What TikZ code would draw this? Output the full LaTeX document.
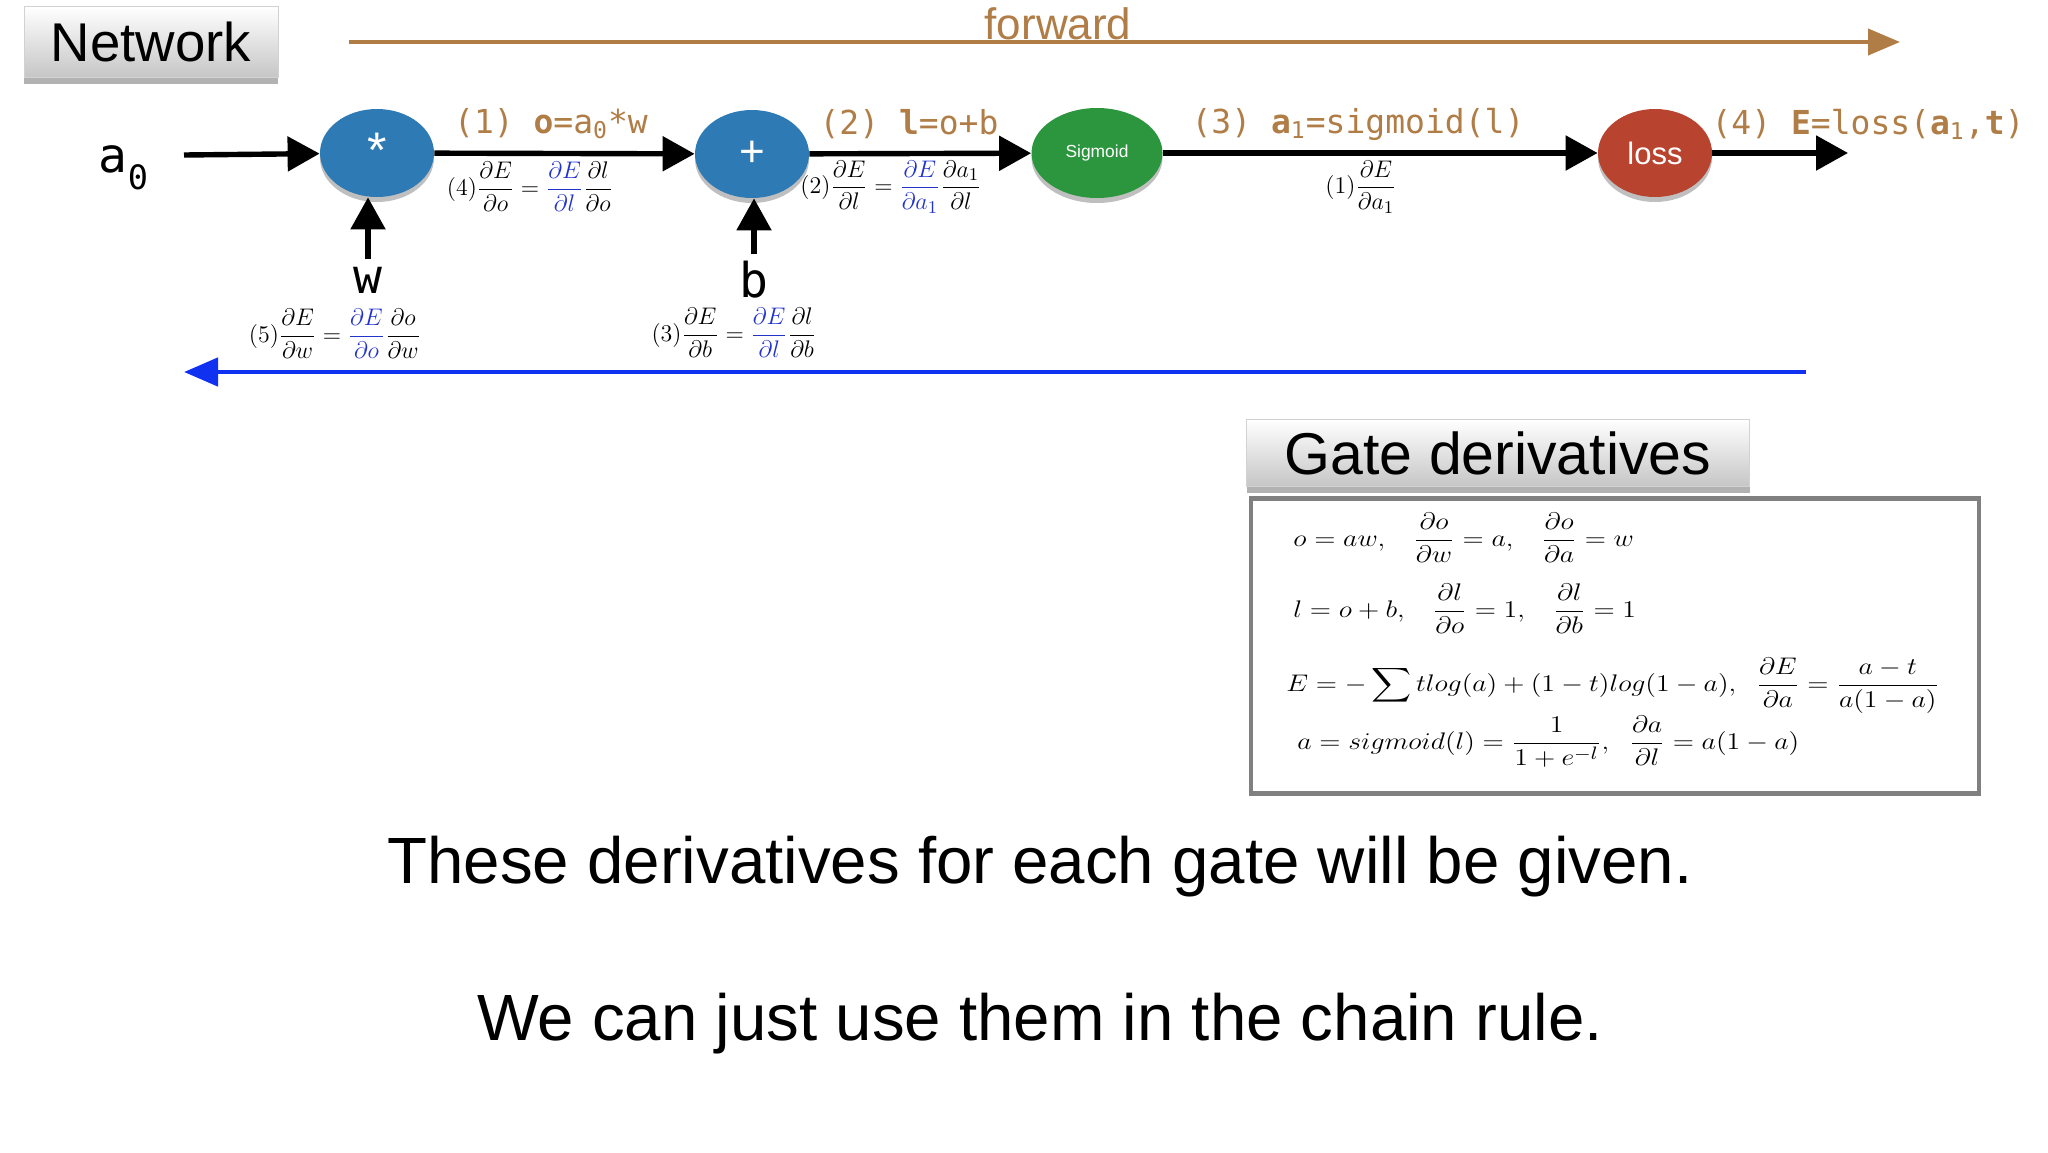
\documentclass[tikz,border=0pt]{standalone}
\usepackage{amsmath}
\usepackage{fontspec}
\setmainfont{Liberation Sans}
\setmonofont{DejaVu Sans Mono}
\usetikzlibrary{arrows.meta,shapes.geometric,shadows}

\definecolor{gateblue}{RGB}{46,122,180}
\definecolor{gategreen}{RGB}{44,150,62}
\definecolor{gatered}{RGB}{184,67,46}
\definecolor{fwdbrown}{RGB}{176,125,70}
\definecolor{bwdblue}{RGB}{16,50,240}
\definecolor{chainblue}{RGB}{34,51,204}

\newcommand{\pfrac}[2]{\dfrac{\partial #1}{\partial #2}}
\newcommand{\chainfrac}[2]{\textcolor{chainblue}{\dfrac{\partial #1}{\partial #2}}}
\newcommand{\wideeq}[1]{\scalebox{1.16}[1]{$\displaystyle #1$}}

\begin{document}
\begin{tikzpicture}[x=0.5pt,y=-0.5pt,
  gate/.style={ellipse, fill=#1, inner sep=0pt, minimum width=57pt, minimum height=44pt,
    text=white, font=\fontsize{22}{24}\selectfont,
    drop shadow={shadow xshift=0pt, shadow yshift=-2.5pt, opacity=0.25, fill=black}},
  wire/.style={line width=2.7pt, -{Triangle[length=16pt,width=17pt]}},
  titlebox/.style={draw=gray!35, top color=white, bottom color=gray!45, inner sep=0pt,
    drop shadow={shadow xshift=0pt, shadow yshift=-3pt, opacity=0.3, fill=black}},
  fwdlabel/.style={text=fwdbrown, font=\ttfamily\fontsize{16.5}{18}\selectfont},
  varlabel/.style={inner sep=0.5pt, font=\ttfamily\fontsize{24}{26}\selectfont},
  grad/.style={inner sep=0pt, font=\fontsize{13}{15}\selectfont},
  eq/.style={anchor=west, inner sep=0pt, font=\fontsize{13}{16}\selectfont},
  note/.style={font=\fontsize{32.7}{36}\selectfont}]
  \useasboundingbox (0,0) rectangle (2048,1152);

  %% title and forward direction
  \node[titlebox, minimum width=127pt, minimum height=35.5pt,
    font=\fontsize{27.3}{30}\selectfont] (nettitle) at (151,42) {Network};
  \coordinate (fwdstart) at (349,42);
  \coordinate (fwdend) at (1900,42);
  \draw[fwdbrown, line width=2pt, -{Triangle[length=16pt,width=13pt]}] (fwdstart) -- (fwdend);
  \node[text=fwdbrown, anchor=base, font=\fontsize{22}{24}\selectfont] (fwdlabel) at (1058,39) {forward};

  %% gates
  \node[gate=gateblue] (mul) at (377,153) {\raisebox{3pt}{\fontsize{25}{25}\selectfont *}};
  \node[gate=gateblue] (add) at (752,154) {+};
  \node[gate=gategreen, minimum width=65.5pt, minimum height=45pt,
    font=\fontsize{8.7}{10}\selectfont] (sig) at (1097,153) {Sigmoid};
  \node[gate=gatered, font=\fontsize{15.5}{18}\selectfont] (loss) at (1655,153) {loss};

  %% inputs
  \node[varlabel] (azero) at (124,168) {a\raisebox{-0.2em}{\textsubscript{0}}};
  \node[varlabel] (wvar) at (368,280) {w};
  \node[varlabel] (bvar) at (754,280) {b};
  \coordinate (ain) at (184,155);
  \coordinate (eout) at (1848,153);

  %% forward wires
  \draw[wire] (ain) -- (mul);
  \draw[wire] (mul) -- (add);
  \draw[wire] (add) -- (sig);
  \draw[wire] (sig) -- (loss);
  \draw[wire] (loss) -- (eout);
  \draw[wire, shorten <=3pt] (wvar) -- (wvar |- mul.south);
  \draw[wire, shorten <=3pt] (bvar) -- (bvar |- add.south);

  %% forward steps
  \node[fwdlabel] (stepa) at (551,124) {(1) \textbf{o}=a\textsubscript{0}*w};
  \node[fwdlabel] (stepb) at (909,124) {(2) \textbf{l}=o+b};
  \node[fwdlabel] (stepc) at (1358,124) {(3) \textbf{a}\textsubscript{1}=sigmoid(l)};
  \node[fwdlabel] (stepd) at (1868,124) {(4) \textbf{E}=loss(\textbf{a}\textsubscript{1},\textbf{t})};

  %% backward steps
  \node[grad] (gradsig) at (1361,187) {$(1)\pfrac{E}{a_1}$};
  \node[grad] (gradadd) at (891,187) {$(2)\pfrac{E}{l} = \chainfrac{E}{a_1}\pfrac{a_1}{l}$};
  \node[grad] (gradb) at (734,333) {$(3)\pfrac{E}{b} = \chainfrac{E}{l}\pfrac{l}{b}$};
  \node[grad] (gradmul) at (530,187) {$(4)\pfrac{E}{o} = \chainfrac{E}{l}\pfrac{l}{o}$};
  \node[grad] (gradw) at (335,334) {$(5)\pfrac{E}{w} = \chainfrac{E}{o}\pfrac{o}{w}$};

  \coordinate (bwdstart) at (1806,372);
  \coordinate (bwdend) at (184,372);
  \draw[bwdblue, line width=2.3pt, -{Triangle[length=17pt,width=14pt]}] (bwdstart) -- (bwdend);

  %% gate derivatives
  \node[titlebox, minimum width=251.5pt, minimum height=33.5pt,
    font=\fontsize{29.5}{32}\selectfont] (gatetitle) at (1498,453) {Gate derivatives};
  \node[draw=gray, line width=2.3pt, minimum width=364pt, minimum height=147.5pt,
    inner sep=0pt] (eqbox) at (1615,646) {};
  \node[eq] (eqmul) at (1293,538)
    {\wideeq{o = aw,\;\;\; \frac{\partial o}{\partial w} = a,\;\;\; \frac{\partial o}{\partial a} = w}};
  \node[eq] (eqadd) at (1293,609)
    {\wideeq{l = o + b,\;\;\; \frac{\partial l}{\partial o} = 1,\;\;\; \frac{\partial l}{\partial b} = 1}};
  \node[eq] (eqloss) at (1286,686)
    {\wideeq{E = -\sum tlog(a) + (1-t)log(1-a),\;\; \frac{\partial E}{\partial a} = \frac{a-t}{a(1-a)}}};
  \node[eq] (eqsig) at (1297,742)
    {\wideeq{a = sigmoid(l) = \frac{1}{1+e^{-l}},\;\; \frac{\partial a}{\partial l} = a(1-a)}};

  %% notes
  \node[note] (notea) at (1040,867) {These derivatives for each gate will be given.};
  \node[note] (noteb) at (1040,1024) {We can just use them in the chain rule.};
\end{tikzpicture}
\end{document}
